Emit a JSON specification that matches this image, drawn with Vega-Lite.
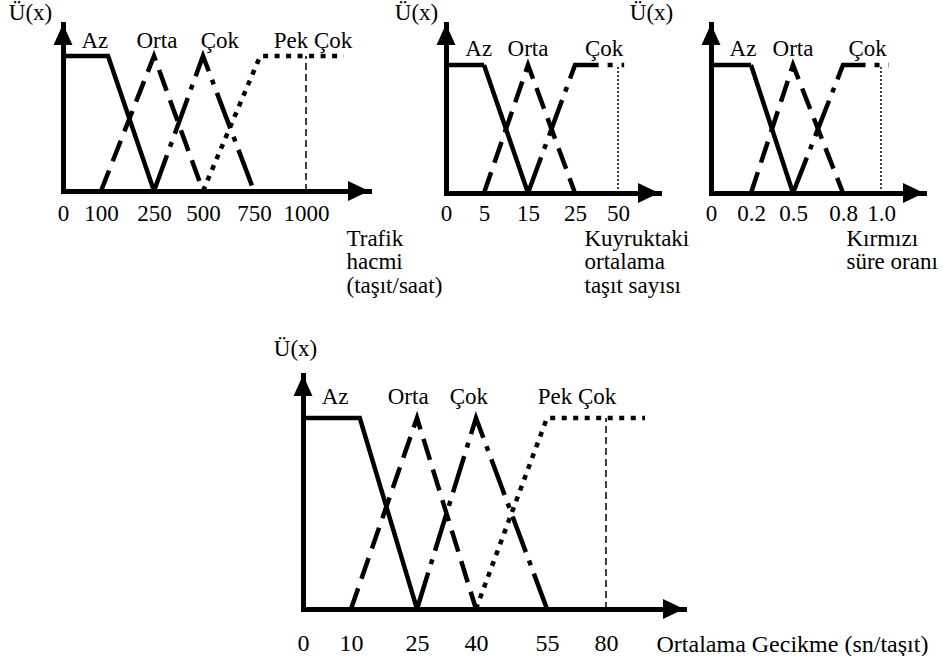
{
  "$schema": "https://vega.github.io/schema/vega-lite/v6.json",
  "background": "white",
  "padding": {"left": 8, "top": 1, "right": 0, "bottom": 0},
  "config": {
    "view": {"stroke": null},
    "axis": {"domainColor": "black", "domainWidth": 5, "domainCap": "square", "grid": false, "ticks": false, "tickSize": 0, "labelColor": "black", "titleColor": "black", "labelFont": "Liberation Serif", "titleFont": "Liberation Serif", "titleFontWeight": "normal", "labelOverlap": false, "labelFlush": false, "labelBound": false},
    "text": {"font": "Liberation Serif", "fontSize": 23, "color": "black"}
  },
  "datasets": {
    "curves": [
      {"p": "1", "s": "Az", "x": 0, "y": 1}, {"p": "1", "s": "Az", "x": 120, "y": 1}, {"p": "1", "s": "Az", "x": 250, "y": 0},
      {"p": "1", "s": "Orta", "x": 100, "y": 0}, {"p": "1", "s": "Orta", "x": 250, "y": 1}, {"p": "1", "s": "Orta", "x": 500, "y": 0},
      {"p": "1", "s": "Çok", "x": 250, "y": 0}, {"p": "1", "s": "Çok", "x": 500, "y": 1}, {"p": "1", "s": "Çok", "x": 750, "y": 0},
      {"p": "1", "s": "Pek Çok", "x": 500, "y": 0}, {"p": "1", "s": "Pek Çok", "x": 780, "y": 1}, {"p": "1", "s": "Pek Çok", "x": 1150, "y": 1},
      {"p": "1", "s": "ref", "x": 1000, "y": 0}, {"p": "1", "s": "ref", "x": 1000, "y": 1},
      {"p": "2", "s": "Az", "x": 0, "y": 1}, {"p": "2", "s": "Az", "x": 5, "y": 1}, {"p": "2", "s": "Az", "x": 15, "y": 0},
      {"p": "2", "s": "Orta", "x": 5, "y": 0}, {"p": "2", "s": "Orta", "x": 15, "y": 1}, {"p": "2", "s": "Orta", "x": 25, "y": 0},
      {"p": "2", "s": "Çok", "x": 15, "y": 0}, {"p": "2", "s": "Çok", "x": 25, "y": 1}, {"p": "2", "s": "Çok", "x": 51.5, "y": 1},
      {"p": "2", "s": "ref", "x": 50, "y": 0}, {"p": "2", "s": "ref", "x": 50, "y": 1},
      {"p": "3", "s": "Az", "x": 0, "y": 1}, {"p": "3", "s": "Az", "x": 0.2, "y": 1}, {"p": "3", "s": "Az", "x": 0.5, "y": 0},
      {"p": "3", "s": "Orta", "x": 0.2, "y": 0}, {"p": "3", "s": "Orta", "x": 0.5, "y": 1}, {"p": "3", "s": "Orta", "x": 0.8, "y": 0},
      {"p": "3", "s": "Çok", "x": 0.5, "y": 0}, {"p": "3", "s": "Çok", "x": 0.8, "y": 1}, {"p": "3", "s": "Çok", "x": 1.037, "y": 1},
      {"p": "3", "s": "ref", "x": 1.0, "y": 0}, {"p": "3", "s": "ref", "x": 1.0, "y": 1},
      {"p": "4", "s": "Az", "x": 0, "y": 1}, {"p": "4", "s": "Az", "x": 12, "y": 1}, {"p": "4", "s": "Az", "x": 25, "y": 0},
      {"p": "4", "s": "Orta", "x": 10, "y": 0}, {"p": "4", "s": "Orta", "x": 25, "y": 1}, {"p": "4", "s": "Orta", "x": 40, "y": 0},
      {"p": "4", "s": "Çok", "x": 25, "y": 0}, {"p": "4", "s": "Çok", "x": 40, "y": 1}, {"p": "4", "s": "Çok", "x": 55, "y": 0},
      {"p": "4", "s": "Pek Çok", "x": 40, "y": 0}, {"p": "4", "s": "Pek Çok", "x": 55, "y": 1}, {"p": "4", "s": "Pek Çok", "x": 90, "y": 1},
      {"p": "4", "s": "ref", "x": 80, "y": 0}, {"p": "4", "s": "ref", "x": 80, "y": 1}
    ],
    "labels": [
      {"p": "1", "t": "Az", "x": 84, "y": 1.06}, {"p": "1", "t": "Orta", "x": 265, "y": 1.06}, {"p": "1", "t": "Çok", "x": 583, "y": 1.06}, {"p": "1", "t": "Pek Çok", "x": 1028, "y": 1.06},
      {"p": "2", "t": "Az", "x": 4.3, "y": 1.07}, {"p": "2", "t": "Orta", "x": 15, "y": 1.07}, {"p": "2", "t": "Çok", "x": 41.9, "y": 1.07},
      {"p": "3", "t": "Az", "x": 0.16, "y": 1.07}, {"p": "3", "t": "Orta", "x": 0.5, "y": 1.07}, {"p": "3", "t": "Çok", "x": 0.93, "y": 1.07},
      {"p": "4", "t": "Az", "x": 6.7, "y": 1.073}, {"p": "4", "t": "Orta", "x": 23, "y": 1.073}, {"p": "4", "t": "Çok", "x": 38.2, "y": 1.073}, {"p": "4", "t": "Pek Çok", "x": 67.7, "y": 1.073}
    ],
    "arrows": [
      {"p": "1", "dir": "right", "x": 1250, "y": 0}, {"p": "1", "dir": "up", "x": 0, "y": 1.237},
      {"p": "2", "dir": "right", "x": 60, "y": 0}, {"p": "2", "dir": "up", "x": 0, "y": 1.32},
      {"p": "3", "dir": "right", "x": 1.2, "y": 0}, {"p": "3", "dir": "up", "x": 0, "y": 1.32},
      {"p": "4", "dir": "right", "x": 100, "y": 0}, {"p": "4", "dir": "up", "x": 0, "y": 1.225}
    ]
  },
  "spacing": 40,
  "bounds": "full",
  "vconcat": [
    {
      "spacing": 52,
      "bounds": "flush",
      "hconcat": [
        {
          "width": 331, "height": 167,
          "layer": [
            {
              "data": {"name": "curves"},
              "transform": [{"filter": "datum.p == '1' && datum.s != 'ref'"}],
              "mark": {"type": "line", "color": "black", "strokeWidth": 4.5, "strokeJoin": "miter"},
              "encoding": {
                "x": {"field": "x", "type": "quantitative",
                  "scale": {"domain": [0, 100, 250, 500, 750, 1000, 1250], "range": [0, 38, 91, 140, 191, 243, 306], "nice": false, "zero": false},
                  "axis": {"values": [0, 100, 250, 500, 750, 1000], "format": "d", "labelFontSize": 23, "labelPadding": 11,
                    "title": ["Trafik", "hacmi", "(taşıt/saat)"], "titleFontSize": 23, "titleLineHeight": 23.5, "titleX": 283, "titleY": 36, "titleAlign": "left", "titleBaseline": "top", "titleAngle": 0}},
                "y": {"field": "y", "type": "quantitative",
                  "scale": {"domain": [0, 1.237], "nice": false, "zero": false},
                  "axis": {"labels": false, "title": "Ü(x)", "titleFontSize": 23, "titleAngle": 0, "titleX": -33, "titleY": -5, "titleAlign": "center", "titleBaseline": "alphabetic"}},
                "strokeDash": {"field": "s", "type": "nominal",
                  "scale": {"domain": ["Az", "Orta", "Çok", "Pek Çok"], "range": [[1, 0], [22, 10], [38, 9, 5, 9], [5, 6.5]]}, "legend": null}
              }
            },
            {
              "data": {"name": "curves"},
              "transform": [{"filter": "datum.p == '1' && datum.s == 'ref'"}],
              "mark": {"type": "line", "color": "black", "strokeWidth": 1.5, "strokeDash": [7, 4]},
              "encoding": {"x": {"field": "x", "type": "quantitative"}, "y": {"field": "y", "type": "quantitative"}}
            },
            {
              "data": {"name": "labels"},
              "transform": [{"filter": "datum.p == '1'"}],
              "mark": {"type": "text", "align": "center", "baseline": "alphabetic", "fontSize": 23},
              "encoding": {"x": {"field": "x", "type": "quantitative"}, "y": {"field": "y", "type": "quantitative"}, "text": {"field": "t"}}
            },
            {
              "data": {"name": "arrows"},
              "transform": [{"filter": "datum.p == '1'"}],
              "mark": {"type": "point", "filled": true, "color": "black", "opacity": 1, "size": 441, "strokeWidth": 0},
              "encoding": {"x": {"field": "x", "type": "quantitative"}, "y": {"field": "y", "type": "quantitative"},
                "shape": {"field": "dir", "type": "nominal", "scale": {"domain": ["right", "up"], "range": ["M0,0L-2,-0.95L-2,0.95Z", "M0,0L-0.9,2L0.9,2Z"]}, "legend": null}}
            }
          ]
        },
        {
          "width": 213, "height": 169,
          "layer": [
            {
              "data": {"name": "curves"},
              "transform": [{"filter": "datum.p == '2' && datum.s != 'ref'"}],
              "mark": {"type": "line", "color": "black", "strokeWidth": 4.5, "strokeJoin": "miter"},
              "encoding": {
                "x": {"field": "x", "type": "quantitative",
                  "scale": {"domain": [0, 5, 15, 25, 50, 60], "range": [0, 38, 82, 129, 172, 213], "nice": false, "zero": false},
                  "axis": {"values": [0, 5, 15, 25, 50], "format": "d", "labelFontSize": 23, "labelPadding": 9,
                    "title": ["Kuyruktaki", "ortalama", "taşıt sayısı"], "titleFontSize": 23, "titleLineHeight": 23.5, "titleX": 138, "titleY": 34, "titleAlign": "left", "titleBaseline": "top", "titleAngle": 0}},
                "y": {"field": "y", "type": "quantitative",
                  "scale": {"domain": [0, 1.32], "nice": false, "zero": false},
                  "axis": {"labels": false, "title": "Ü(x)", "titleFontSize": 23, "titleAngle": 0, "titleX": -30, "titleY": -5, "titleAlign": "center", "titleBaseline": "alphabetic"}},
                "strokeDash": {"field": "s", "type": "nominal",
                  "scale": {"domain": ["Az", "Orta", "Çok"], "range": [[4, 6], [1, 0], [30, 12, 4, 12]]}, "legend": null}
              }
            },
            {
              "data": {"name": "curves"},
              "transform": [{"filter": "datum.p == '2' && datum.s == 'ref'"}],
              "mark": {"type": "line", "color": "black", "strokeWidth": 1.5, "strokeDash": [2, 2]},
              "encoding": {"x": {"field": "x", "type": "quantitative"}, "y": {"field": "y", "type": "quantitative"}}
            },
            {
              "data": {"name": "labels"},
              "transform": [{"filter": "datum.p == '2'"}],
              "mark": {"type": "text", "align": "center", "baseline": "alphabetic", "fontSize": 23},
              "encoding": {"x": {"field": "x", "type": "quantitative"}, "y": {"field": "y", "type": "quantitative"}, "text": {"field": "t"}}
            },
            {
              "data": {"name": "arrows"},
              "transform": [{"filter": "datum.p == '2'"}],
              "mark": {"type": "point", "filled": true, "color": "black", "opacity": 1, "size": 441, "strokeWidth": 0},
              "encoding": {"x": {"field": "x", "type": "quantitative"}, "y": {"field": "y", "type": "quantitative"},
                "shape": {"field": "dir", "type": "nominal", "scale": {"domain": ["right", "up"], "range": ["M0,0L-2,-0.95L-2,0.95Z", "M0,0L-0.9,2L0.9,2Z"]}, "legend": null}}
            }
          ]
        },
        {
          "width": 213, "height": 169,
          "layer": [
            {
              "data": {"name": "curves"},
              "transform": [{"filter": "datum.p == '3' && datum.s != 'ref'"}],
              "mark": {"type": "line", "color": "black", "strokeWidth": 4.5, "strokeJoin": "miter"},
              "encoding": {
                "x": {"field": "x", "type": "quantitative",
                  "scale": {"domain": [0, 0.2, 0.5, 0.8, 1.0, 1.2], "range": [0, 40, 82, 132, 170, 213], "nice": false, "zero": false},
                  "axis": {"values": [0, 0.2, 0.5, 0.8, 1.0], "labelExpr": "datum.value == 0 ? '0' : format(datum.value, '.1f')", "labelFontSize": 23, "labelPadding": 9,
                    "title": ["Kırmızı", "süre oranı"], "titleFontSize": 23, "titleLineHeight": 23.5, "titleX": 135, "titleY": 34, "titleAlign": "left", "titleBaseline": "top", "titleAngle": 0}},
                "y": {"field": "y", "type": "quantitative",
                  "scale": {"domain": [0, 1.32], "nice": false, "zero": false},
                  "axis": {"labels": false, "title": "Ü(x)", "titleFontSize": 23, "titleAngle": 0, "titleX": -60, "titleY": -5, "titleAlign": "center", "titleBaseline": "alphabetic"}},
                "strokeDash": {"field": "s", "type": "nominal",
                  "scale": {"domain": ["Az", "Orta", "Çok"], "range": [[4, 6], [1, 0], [30, 12, 4, 12]]}, "legend": null}
              }
            },
            {
              "data": {"name": "curves"},
              "transform": [{"filter": "datum.p == '3' && datum.s == 'ref'"}],
              "mark": {"type": "line", "color": "black", "strokeWidth": 1.5, "strokeDash": [2, 2]},
              "encoding": {"x": {"field": "x", "type": "quantitative"}, "y": {"field": "y", "type": "quantitative"}}
            },
            {
              "data": {"name": "labels"},
              "transform": [{"filter": "datum.p == '3'"}],
              "mark": {"type": "text", "align": "center", "baseline": "alphabetic", "fontSize": 23},
              "encoding": {"x": {"field": "x", "type": "quantitative"}, "y": {"field": "y", "type": "quantitative"}, "text": {"field": "t"}}
            },
            {
              "data": {"name": "arrows"},
              "transform": [{"filter": "datum.p == '3'"}],
              "mark": {"type": "point", "filled": true, "color": "black", "opacity": 1, "size": 441, "strokeWidth": 0},
              "encoding": {"x": {"field": "x", "type": "quantitative"}, "y": {"field": "y", "type": "quantitative"},
                "shape": {"field": "dir", "type": "nominal", "scale": {"domain": ["right", "up"], "range": ["M0,0L-2,-0.95L-2,0.95Z", "M0,0L-0.9,2L0.9,2Z"]}, "legend": null}}
            }
          ]
        }
      ]
    },
    {
      "width": 621, "height": 234,
      "layer": [
        {
          "data": {"name": "curves"},
          "transform": [{"filter": "datum.p == '4' && datum.s != 'ref'"}],
          "mark": {"type": "line", "color": "black", "strokeWidth": 4.5, "strokeJoin": "miter"},
          "encoding": {
            "x": {"field": "x", "type": "quantitative",
              "scale": {"domain": [0, 10, 25, 40, 55, 80, 100], "range": [240, 288, 354, 413, 484, 543, 621], "nice": false, "zero": false},
              "axis": {"values": [0, 10, 25, 40, 55, 80], "format": "d", "labelFontSize": 24, "labelPadding": 22,
                "title": "Ortalama Gecikme (sn/taşıt)", "titleFontSize": 24, "titleX": 593, "titleY": 42, "titleAlign": "left", "titleBaseline": "alphabetic", "titleAngle": 0}},
            "y": {"field": "y", "type": "quantitative",
              "scale": {"domain": [0, 1.225], "nice": false, "zero": false},
              "axis": {"offset": -240, "labels": false, "title": "Ü(x)", "titleFontSize": 23, "titleAngle": 0, "titleX": -8, "titleY": -20, "titleAlign": "center", "titleBaseline": "alphabetic"}},
            "strokeDash": {"field": "s", "type": "nominal",
              "scale": {"domain": ["Az", "Orta", "Çok", "Pek Çok"], "range": [[1, 0], [24, 12], [40, 10, 5, 10], [5, 6.5]]}, "legend": null}
          }
        },
        {
          "data": {"name": "curves"},
          "transform": [{"filter": "datum.p == '4' && datum.s == 'ref'"}],
          "mark": {"type": "line", "color": "black", "strokeWidth": 1.5, "strokeDash": [7, 4]},
          "encoding": {"x": {"field": "x", "type": "quantitative"}, "y": {"field": "y", "type": "quantitative"}}
        },
        {
          "data": {"name": "labels"},
          "transform": [{"filter": "datum.p == '4'"}],
          "mark": {"type": "text", "align": "center", "baseline": "alphabetic", "fontSize": 23},
          "encoding": {"x": {"field": "x", "type": "quantitative"}, "y": {"field": "y", "type": "quantitative"}, "text": {"field": "t"}}
        },
        {
          "data": {"name": "arrows"},
          "transform": [{"filter": "datum.p == '4'"}],
          "mark": {"type": "point", "filled": true, "color": "black", "opacity": 1, "size": 441, "strokeWidth": 0},
          "encoding": {"x": {"field": "x", "type": "quantitative"}, "y": {"field": "y", "type": "quantitative"},
            "shape": {"field": "dir", "type": "nominal", "scale": {"domain": ["right", "up"], "range": ["M0,0L-2,-0.95L-2,0.95Z", "M0,0L-0.9,2L0.9,2Z"]}, "legend": null}}
        }
      ]
    }
  ]
}
